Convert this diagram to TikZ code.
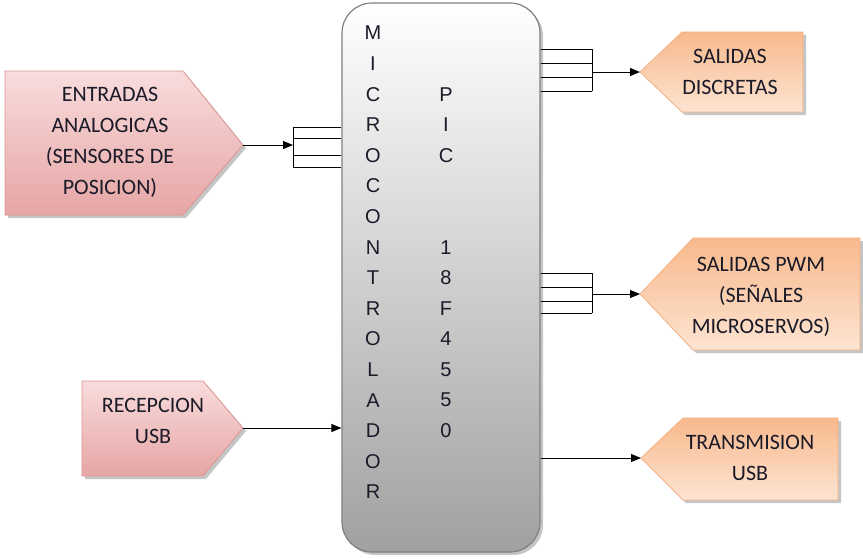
\documentclass[tikz,border=0pt]{standalone}
\usepackage{fontspec}
\setmainfont{Carlito}
\newfontfamily\letrafont{Liberation Sans}
\usetikzlibrary{shadows,arrows.meta}

\definecolor{rosaArriba}{HTML}{F9DCDC}
\definecolor{rosaAbajo}{HTML}{E6A5A5}
\definecolor{rosaBorde}{HTML}{D99594}
\definecolor{narArriba}{HTML}{F8B98C}
\definecolor{narAbajo}{HTML}{FDE4D2}
\definecolor{narBorde}{HTML}{F4B183}
\definecolor{tinta}{HTML}{1A1A28}

\tikzset{
  entrada/.style={draw=rosaBorde, line width=0.8pt, top color=rosaArriba, bottom color=rosaAbajo,
    drop shadow={shadow xshift=3pt, shadow yshift=-3pt, fill=black!45, opacity=0.5}},
  salida/.style={draw=narBorde, line width=0.8pt, top color=narArriba, bottom color=narAbajo,
    drop shadow={shadow xshift=3pt, shadow yshift=-3pt, fill=black!45, opacity=0.5}},
  rotulo/.style={align=center, text=tinta, font=\fontsize{22}{31}\selectfont},
  letra/.style={inner sep=0pt, text=tinta, font=\letrafont\fontsize{20}{24}\selectfont},
  flecha/.style={line width=1pt, -{Triangle[length=10pt,width=8pt]}},
  bus/.style={line width=1pt}
}

\begin{document}
\begin{tikzpicture}[x=1pt,y=-1pt]
\useasboundingbox (0,0) rectangle (863,558);

% microcontrolador
\node[draw=black!50, line width=1.2pt, rounded corners=30pt, minimum width=198pt, minimum height=549pt,
  top color=white, bottom color=black!37, inner sep=0pt,
  drop shadow={shadow xshift=3pt, shadow yshift=-3pt, fill=black!45, opacity=0.5}]
  (mcu) at (441,277.5) {};
\foreach \ch [count=\i from 0] in {M,I,C,R,O,C,O,N,T,R,O,L,A,D,O,R}
  \node[letra] (m\i) at (373,33+30.6*\i) {\ch};
\foreach \ch/\r in {P/2,I/3,C/4,1/7,8/8,F/9,4/10,5/11,5/12,0/13}
  \node[letra] (p\r) at (446,33+30.6*\r) {\ch};

% entradas
\path[entrada] (5,71) -- (183,71) -- (243,145) -- (183,215) -- (5,215) -- cycle;
\node[rotulo] (entTxt) at (110,142) {ENTRADAS\\ANALOGICAS\\(SENSORES DE\\POSICION)};
\coordinate (entPunta) at (243,145);
\coordinate (entBarra) at (293,145);

\path[entrada] (82,381) -- (203,381) -- (243,428) -- (203,476) -- (82,476) -- cycle;
\node[rotulo] (recTxt) at (153,421) {RECEPCION\\USB};
\coordinate (recPunta) at (243,428);

% salidas
\path[salida] (640,72) -- (682,32) -- (803,32) -- (803,112) -- (682,112) -- cycle;
\node[rotulo] (disTxt) at (730,72) {SALIDAS\\DISCRETAS};
\coordinate (disPunta) at (640,72);
\coordinate (disBarra) at (592,72);

\path[salida] (640,294) -- (693,238) -- (860,238) -- (860,350) -- (693,350) -- cycle;
\node[rotulo] (pwmTxt) at (761,297) {SALIDAS PWM\\(SEÑALES\\MICROSERVOS)};
\coordinate (pwmPunta) at (640,294);
\coordinate (pwmBarra) at (592,294);

\path[salida] (641,458) -- (683,418) -- (838,418) -- (838,500) -- (683,500) -- cycle;
\node[rotulo] (traTxt) at (750,458) {TRANSMISION\\USB};
\coordinate (traPunta) at (641,458);

% conexiones
\draw[flecha] (entPunta) -- (entBarra);
\draw[bus] (293,127) -- (293,167);
\foreach \yy in {127,138,155,167}
  \draw[bus] (293,\yy) -- (mcu.west |- 0,\yy);

\draw[bus] (592,49) -- (592,91);
\foreach \yy in {49,63,77,91}
  \draw[bus] (mcu.east |- 0,\yy) -- (592,\yy);
\draw[flecha] (disBarra) -- (disPunta);

\draw[bus] (592,273) -- (592,313);
\foreach \yy in {273,287,301,313}
  \draw[bus] (mcu.east |- 0,\yy) -- (592,\yy);
\draw[flecha] (pwmBarra) -- (pwmPunta);

\draw[flecha] (recPunta) -- (recPunta -| mcu.west);
\draw[flecha] (traPunta -| mcu.east) -- (traPunta);

\end{tikzpicture}
\end{document}
